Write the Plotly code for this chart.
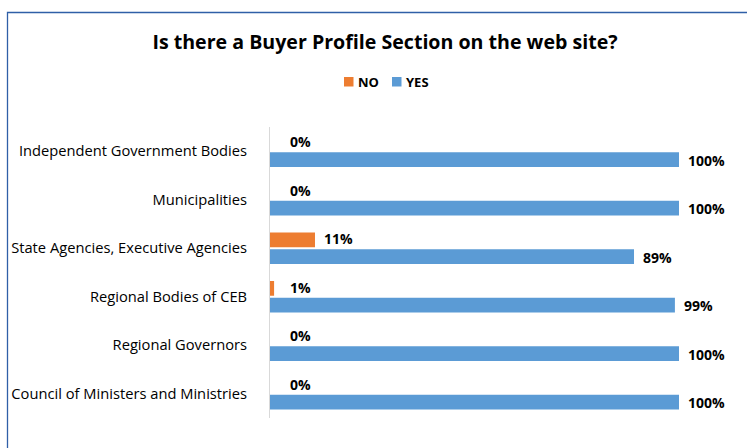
import plotly.graph_objects as go

categories = [
    "Independent Government Bodies",
    "Municipalities",
    "State Agencies, Executive Agencies",
    "Regional Bodies of CEB",
    "Regional Governors",
    "Council of Ministers and Ministries",
]
no_values = [0, 0, 11, 1, 0, 0]
yes_values = [100, 100, 89, 99, 100, 100]
series_names = ["NO", "YES"]

ORANGE = "#ED7D31"
BLUE = "#5B9BD5"
FONT = "Open Sans"

W, H = 747, 448
L, R, T, B = 270, 17, 127, 30
plot_w = W - L - R
plot_h = H - T - B
xmax = 100 * plot_w / 409.0


def px_to_paper_x(px):
    return (px - L) / plot_w


def px_to_paper_y(py):
    return (H - B - py) / plot_h


fig = go.Figure()
fig.add_trace(go.Bar(y=categories, x=no_values, name=series_names[0],
                     orientation="h", showlegend=False,
                     marker=dict(color=ORANGE, line=dict(width=0))))
fig.add_trace(go.Bar(y=categories, x=yes_values, name=series_names[1],
                     orientation="h", showlegend=False,
                     marker=dict(color=BLUE, line=dict(width=0))))

# value labels just past the end of each bar
annotations = []
for i, cat in enumerate(categories):
    for vals, off in ((no_values, -0.20), (yes_values, 0.19)):
        annotations.append(dict(
            x=max(vals[i], 2.6), y=i + off, xref="x", yref="y",
            text=f"{vals[i]}%", showarrow=False, xanchor="left",
            yanchor="middle", xshift=7,
            font=dict(family=FONT, size=14, color="#000000", weight="bold"),
        ))

# legend: small coloured squares followed by bold series names
shapes = []
legend_items = [(series_names[0], ORANGE, 344), (series_names[1], BLUE, 392)]
for name, color, left in legend_items:
    shapes.append(dict(
        type="rect", xref="paper", yref="paper",
        x0=px_to_paper_x(left), x1=px_to_paper_x(left + 9.5),
        y0=px_to_paper_y(86.5), y1=px_to_paper_y(77),
        line=dict(width=0), fillcolor=color,
    ))
    annotations.append(dict(
        x=px_to_paper_x(left + 12), y=px_to_paper_y(82),
        xref="paper", yref="paper", xanchor="left", yanchor="middle",
        showarrow=False, text=f"<b>{name}</b>",
        font=dict(family=FONT, size=13, color="#000000"),
    ))

# chart frame
shapes.append(dict(
    type="rect", xref="paper", yref="paper",
    x0=px_to_paper_x(7.5), x1=px_to_paper_x(760),
    y0=px_to_paper_y(460), y1=px_to_paper_y(12.5),
    line=dict(color="#2F5FA7", width=1.3), fillcolor="rgba(0,0,0,0)",
))

fig.update_layout(
    width=W, height=H,
    margin=dict(l=L, r=R, t=T, b=B),
    paper_bgcolor="white", plot_bgcolor="white",
    barmode="group", bargap=0.31, bargroupgap=0.12,
    showlegend=False,
    title=dict(text="<b>Is there a Buyer Profile Section on the web site?</b>",
               x=385 / W, xanchor="center", xref="container",
               y=1 - 42 / H, yanchor="middle", yref="container",
               font=dict(family=FONT, size=19.6, color="#000000")),
    xaxis=dict(range=[0, xmax], visible=False, fixedrange=True),
    yaxis=dict(type="category", autorange="reversed", showgrid=False,
               showline=True, linecolor="#D9D9D9", linewidth=1,
               ticks="", ticklabelstandoff=19,
               tickfont=dict(family=FONT, size=14.7, color="#000000")),
    annotations=annotations,
    shapes=shapes,
    font=dict(family=FONT),
)

fig.write_html("out.html")
